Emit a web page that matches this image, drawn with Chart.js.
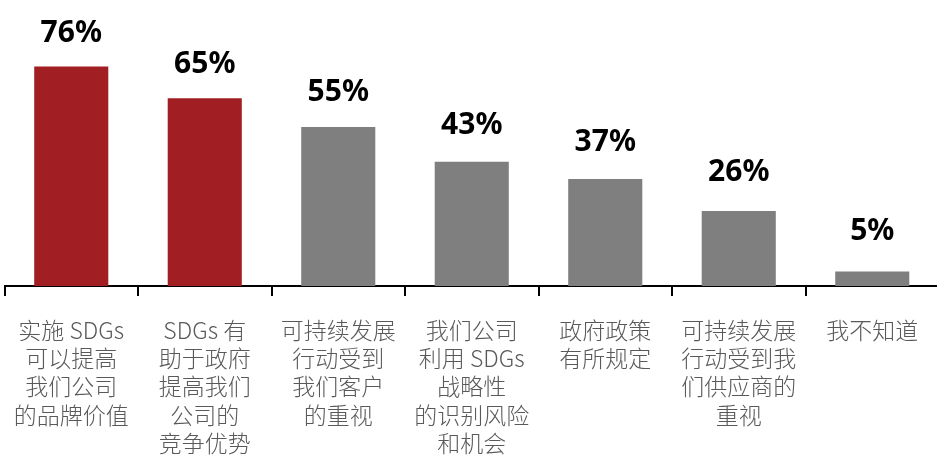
<!DOCTYPE html>
<html>
<head>
<meta charset="utf-8">
<script src="https://cdn.jsdelivr.net/npm/chart.js@4.4.1/dist/chart.umd.min.js"></script>
<style>
    html, body { margin: 0; padding: 0; background: #fff; overflow: hidden; }
    /* the axis runs slightly past the right edge in the original */
    .wrap { width: 939px; height: 461px; }
</style>
</head>
<body>
<div class="wrap"><canvas id="sdgChart"></canvas></div>
<script>
// Chart data
const categories = [
    ['实施 SDGs', '可以提高', '我们公司', '的品牌价值'],
    ['SDGs 有', '助于政府', '提高我们', '公司的', '竞争优势'],
    ['可持续发展', '行动受到', '我们客户', '的重视'],
    ['我们公司', '利用 SDGs', '战略性', '的识别风险', '和机会'],
    ['政府政策', '有所规定'],
    ['可持续发展', '行动受到我', '们供应商的', '重视'],
    ['我不知道']
];
const values = [76, 65, 55, 43, 37, 26, 5];
const highlighted = [true, true, false, false, false, false, false];

const RED = '#a11f22';
const GRAY = '#7f7f7f';

// Value labels above bars (a little higher above the short bars, as in the original)
const valueLabels = {
    id: 'valueLabels',
    afterDatasetsDraw(chart) {
        const ctx = chart.ctx;
        const meta = chart.getDatasetMeta(0);
        ctx.save();
        ctx.font = 'bold 30px "Noto Sans"';
        ctx.fillStyle = '#000';
        ctx.textAlign = 'center';
        ctx.textBaseline = 'alphabetic';
        meta.data.forEach((bar, i) => {
            const h = bar.base - bar.y;
            const mid = bar.y - 43 + 0.0375 * h;
            ctx.fillText(values[i] + '%', bar.x, mid + 10.5);
        });
        ctx.restore();
    }
};

const ctx = document.getElementById('sdgChart').getContext('2d');
new Chart(ctx, {
    type: 'bar',
    data: {
        labels: categories,
        datasets: [{
            data: values,
            backgroundColor: highlighted.map(h => h ? RED : GRAY),
            barPercentage: 0.555,
            categoryPercentage: 1.0
        }]
    },
    options: {
        responsive: true,
        maintainAspectRatio: false,
        animation: false,
        layout: {
            padding: { top: 26, left: 4.5, right: 0, bottom: 0 }
        },
        plugins: {
            legend: { display: false },
            tooltip: { enabled: false }
        },
        scales: {
            y: {
                display: false,
                min: 0,
                max: 90
            },
            x: {
                afterFit: (scale) => {
                    scale.height = 175;
                    // labels fit inside their columns, no extra side padding
                    scale.paddingLeft = 0;
                    scale.paddingRight = 0;
                },
                border: { color: '#000', width: 2 },
                grid: {
                    offset: true,
                    drawOnChartArea: false,
                    color: '#000',
                    lineWidth: 2,
                    tickLength: 10
                },
                ticks: {
                    color: '#595959',
                    padding: 20,
                    maxRotation: 0,
                    autoSkip: false,
                    font: { family: '"Noto Sans CJK SC"', size: 23, weight: 300, lineHeight: 1.23 }
                }
            }
        }
    },
    plugins: [valueLabels]
});
</script>
</body>
</html>
